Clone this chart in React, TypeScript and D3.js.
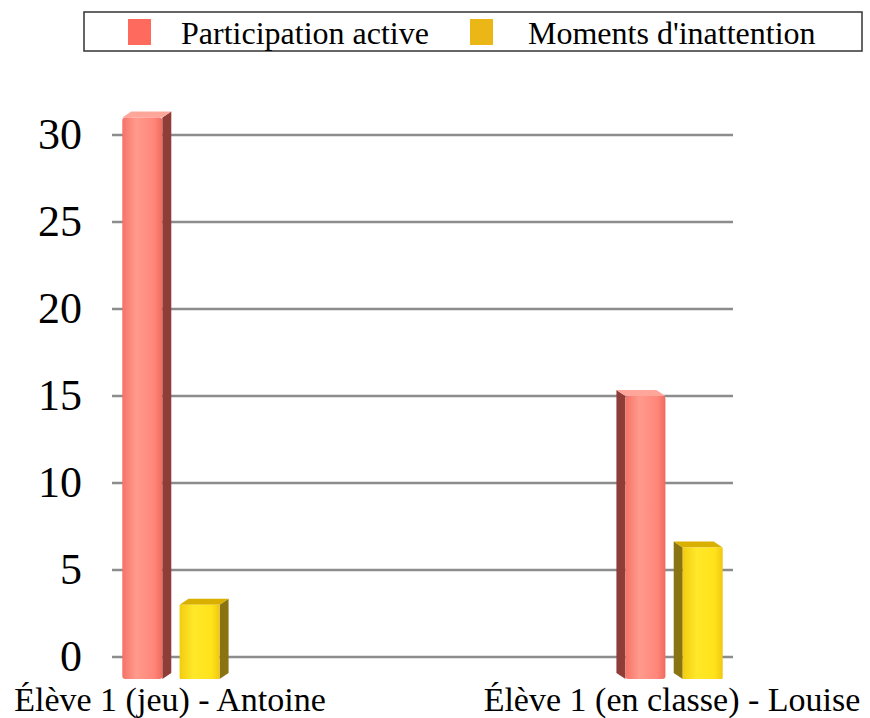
import React from "react";
import * as d3 from "d3";

const categories = ["Élève 1 (jeu) - Antoine", "Élève 1 (en classe) - Louise"];
const seriesNames = ["Participation active", "Moments d'inattention"];
const participation = [31, 15];
const inattention = [3, 6.3];
const yTicks = [0, 5, 10, 15, 20, 25, 30];

const W = 870;
const H = 718;
const FONT = "'Liberation Serif', 'Times New Roman', serif";

const legendColors = ["#ff6a5e", "#ebb716"];
const frontStops = [
  ["#f57367", "#ff9a8d", "#ff8679", "#f06a5e"],
  ["#f2cc10", "#ffe82a", "#ffe21a", "#f0c810"],
];
const sideColors = ["#8f3d37", "#8a7412"];
const topColors = ["#ffa69b", "#d9b000"];

export default function App() {
  const plotLeft = 112;
  const plotRight = 733;
  const y = d3.scaleLinear().domain([0, 30]).range([657, 135]);
  const floor = y(0) + 22;
  const x = d3.scalePoint<string>().domain(categories).range([plotLeft, plotRight]).padding(0.128);
  const inner = d3.scaleBand<string>().domain(seriesNames).range([-53, 53]).paddingInner(0.15);
  const values = [participation, inattention];
  const frontW = 40;
  const depthX = 9;
  const depthY = 6;
  const center = (plotLeft + plotRight) / 2;

  const bars: React.ReactNode[] = [];
  categories.forEach((cat, ci) => {
    const cx = x(cat)!;
    const rightSide = cx < center;
    seriesNames.forEach((s, si) => {
      const v = values[si][ci];
      const bx = cx + inner(s)!;
      const bw = inner.bandwidth();
      const fx = rightSide ? bx : bx + bw - frontW;
      const top = y(v);
      const dx = rightSide ? depthX : -depthX;
      const sideX = rightSide ? fx + frontW : fx;
      const side = `M${sideX},${top} L${sideX + dx},${top - depthY} L${sideX + dx},${floor - depthY} L${sideX},${floor} Z`;
      const topFace = `M${fx},${top} L${fx + dx},${top - depthY} L${fx + frontW + dx},${top - depthY} L${fx + frontW},${top} Z`;
      bars.push(
        <g key={`${ci}-${si}`}>
          <path d={side} fill={sideColors[si]} />
          <path d={topFace} fill={topColors[si]} />
          <rect x={fx} y={top} width={frontW} height={floor - top} fill={`url(#grad${si})`} rx={si === 0 ? 3 : 1} />
        </g>
      );
    });
  });

  return (
    <svg width={W} height={H} style={{ position: "absolute", left: 0, top: 0 }} fontFamily={FONT}>
      <defs>
        {frontStops.map((st, i) => (
          <linearGradient key={i} id={`grad${i}`} x1="0" x2="1" y1="0" y2="0">
            <stop offset="0%" stopColor={st[0]} />
            <stop offset="35%" stopColor={st[1]} />
            <stop offset="80%" stopColor={st[2]} />
            <stop offset="100%" stopColor={st[3]} />
          </linearGradient>
        ))}
      </defs>
      <rect x={0} y={0} width={W} height={H} fill="#ffffff" />
      {/* legend */}
      <rect x={84} y={12} width={778} height={39} fill="#fff" stroke="#333" strokeWidth={1.5} />
      {seriesNames.map((s, i) => {
        const sx = [128, 470][i];
        return (
          <g key={s}>
            <rect x={sx} y={19} width={23} height={26} fill={legendColors[i]} />
            <text x={[181, 528][i]} y={44} fontSize={32} fill="#000">{s}</text>
          </g>
        );
      })}
      {/* gridlines */}
      {yTicks.map((t) => (
        <g key={t}>
          <line x1={plotLeft} x2={plotRight} y1={y(t)} y2={y(t)} stroke="#8c8c8c" strokeWidth={2.5} />
          <text x={82} y={y(t) + 14} fontSize={44} textAnchor="end" fill="#000">{t}</text>
        </g>
      ))}
      {bars}
      {categories.map((c, i) => (
        <text key={c} x={[170, 672][i]} y={711} fontSize={34} textAnchor="middle" fill="#000">{c}</text>
      ))}
    </svg>
  );
}
